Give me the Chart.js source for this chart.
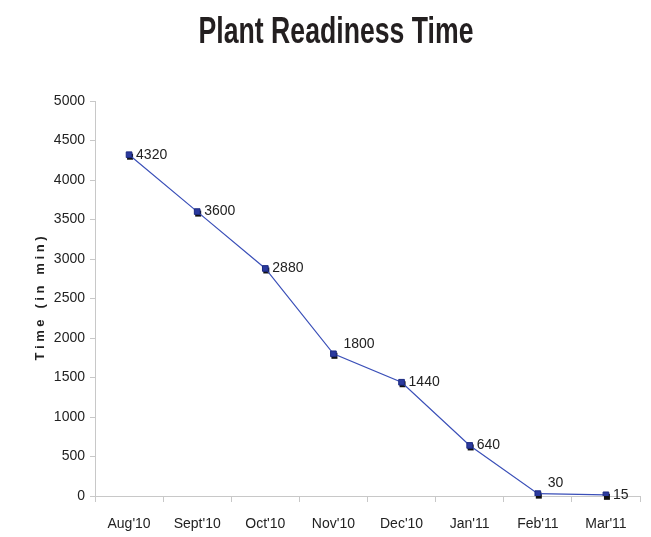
<!DOCTYPE html>
<html>
<head>
<meta charset="utf-8">
<script src="https://cdn.jsdelivr.net/npm/chart.js@4"></script>
<style>
  html, body { margin: 0; padding: 0; background: #fff; }
  #wrap { width: 651px; height: 537px; }
</style>
</head>
<body>
<div id="wrap"><canvas id="myChart" width="651" height="537"></canvas></div>
<script>
const months = ["Aug'10", "Sept'10", "Oct'10", "Nov'10", "Dec'10", "Jan'11", "Feb'11", "Mar'11"];
const minutes = [4320, 3600, 2880, 1800, 1440, 640, 30, 15];
const yTicks = [0, 500, 1000, 1500, 2000, 2500, 3000, 3500, 4000, 4500, 5000];
const chartTitle = 'Plant Readiness Time';

const FONT = "'Liberation Sans', Arial, sans-serif";

// labels beside each point, a few nudged up like the original
const labelShift = [0, 0, 0, -10, 0, 0, -10, 0];

const pointLabels = {
	id: 'pointLabels',
	afterDatasetsDraw(chart) {
		const ctx = chart.ctx;
		const meta = chart.getDatasetMeta(0);
		ctx.save();
		ctx.font = '14px ' + FONT;
		ctx.fillStyle = '#222';
		ctx.textBaseline = 'middle';
		meta.data.forEach(function (pt, i) {
			ctx.fillText(String(minutes[i]), pt.x + (labelShift[i] ? 10 : 7), pt.y + labelShift[i]);
		});
		ctx.restore();
	}
};

// dark shadow under each square marker
const markerShadow = {
	id: 'markerShadow',
	beforeDatasetsDraw(chart) {
		const ctx = chart.ctx;
		const meta = chart.getDatasetMeta(0);
		ctx.save();
		ctx.fillStyle = '#111';
		meta.data.forEach(function (pt) {
			ctx.fillRect(pt.x - 2, pt.y - 1, 6, 6);
		});
		ctx.restore();
	}
};

// condensed bold title like the Arial Narrow original
const narrowTitle = {
	id: 'narrowTitle',
	afterDraw(chart) {
		const ctx = chart.ctx;
		ctx.save();
		ctx.font = 'bold 37px ' + FONT;
		ctx.fillStyle = '#231f20';
		ctx.textAlign = 'center';
		ctx.textBaseline = 'alphabetic';
		ctx.translate(336, 43);
		ctx.scale(0.72, 1);
		ctx.fillText(chartTitle, 0, 0);
		ctx.restore();
	}
};

const ctx = document.getElementById('myChart');
new Chart(ctx, {
	type: 'line',
	data: {
		labels: months,
		datasets: [{
			data: minutes,
			borderColor: '#3a4fb8',
			borderWidth: 1.2,
			pointStyle: 'rect',
			pointRadius: 4,
			pointBackgroundColor: '#2b3a9e',
			pointBorderColor: '#1c2a80',
			pointBorderWidth: 1,
			tension: 0
		}]
	},
	options: {
		responsive: false,
		animation: false,
		layout: { padding: { left: 0, right: 11, top: 101, bottom: 0 } },
		plugins: {
			legend: { display: false },
			tooltip: { enabled: false },
			title: { display: false }
		},
		scales: {
			x: {
				offset: true,
				afterFit: function (axis) {
					axis.height = 41;
				},
				grid: {
					offset: true,
					drawOnChartArea: false,
					color: '#c8c8c8',
					tickLength: 6
				},
				border: { color: '#c8c8c8' },
				ticks: {
					color: '#222',
					font: { family: FONT, size: 14 },
					padding: 14,
					maxRotation: 0
				}
			},
			y: {
				min: 0,
				max: 5000,
				afterBuildTicks: function (axis) {
					axis.ticks = yTicks.map(v => ({ value: v }));
				},
				afterFit: function (axis) {
					axis.width = 95;
				},
				grid: {
					drawOnChartArea: false,
					color: '#c8c8c8',
					tickLength: 5
				},
				border: { color: '#c8c8c8' },
				ticks: {
					color: '#222',
					font: { family: FONT, size: 14 },
					padding: 5,
					callback: function (v) { return String(v); }
				},
				title: {
					display: true,
					text: 'T i m e   ( i n   m i n )',
					color: '#222',
					font: { family: FONT, size: 13, weight: 'bold' },
					padding: { top: 33, bottom: 6 }
				}
			}
		}
	},
	plugins: [markerShadow, pointLabels, narrowTitle]
});
</script>
</body>
</html>
